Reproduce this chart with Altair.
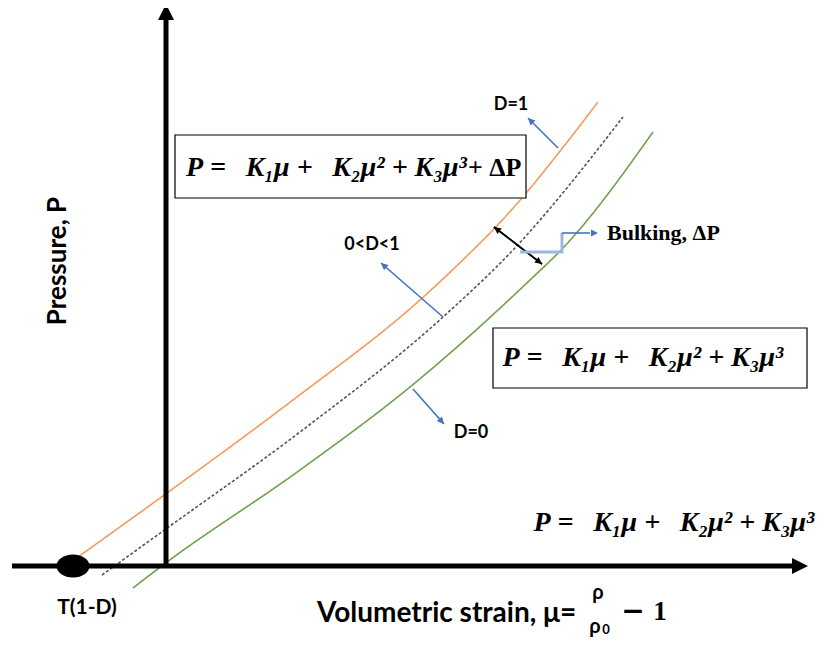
import math
import altair as alt
import pandas as pd

# ---------------- data (schematic units: mu right of the P axis, P above the mu axis)
orange_mu = [-88, 1, 127, 254, 307, 327, 361, 391, 432]
orange_P = [9, 73, 166, 266, 316, 336, 374, 411, 464]
dashed_mu = [-64, -3, 134, 277, 347, 457]
dashed_P = [-9, 35, 134, 249, 316, 449]
green_mu = [-33, -3, 134, 244, 364, 397, 487]
green_P = [-22, 1, 96, 179, 286, 318, 434]

series_names = ["D=1", "0<D<1", "D=0"]

ORANGE = "#F59A5E"
GREEN = "#6FA04F"
DASH = "#555555"
BLUE = "#4472C4"
LIGHTBLUE = "#9DB7E2"

X_DOMAIN = [-158, 656]
Y_DOMAIN = [-74, 558]
W, H = 814, 632

xs = alt.Scale(domain=X_DOMAIN, nice=False, zero=False)
ys = alt.Scale(domain=Y_DOMAIN, nice=False, zero=False)


def X(f="x"):
    return alt.X(f"{f}:Q", scale=xs, axis=None)


def Y(f="y"):
    return alt.Y(f"{f}:Q", scale=ys, axis=None)


# ---------------- curves
rows = []
for name, mus, ps in [("D=1", orange_mu, orange_P), ("0<D<1", dashed_mu, dashed_P), ("D=0", green_mu, green_P)]:
    for i, (m, p) in enumerate(zip(mus, ps)):
        rows.append({"series": name, "x": m, "y": p, "i": i})
curves_df = pd.DataFrame(rows)

curves = alt.Chart(curves_df).mark_line(interpolate="monotone", strokeWidth=1.6).encode(
    x=X(), y=Y(),
    color=alt.Color("series:N", scale=alt.Scale(domain=series_names, range=[ORANGE, DASH, GREEN]), legend=None),
    strokeDash=alt.StrokeDash("series:N", scale=alt.Scale(domain=series_names, range=[[1, 0], [3, 2], [1, 0]]), legend=None),
    detail="series:N",
    order=alt.Order("i:Q"),
)

# ---------------- axes
axis_df = pd.DataFrame({"x": [-154, 0], "y": [0, 0], "x2": [627, 0], "y2": [0, 546]})
axes = alt.Chart(axis_df).mark_rule(strokeWidth=5, color="black", strokeCap="butt").encode(
    x=X(), y=Y(), x2="x2:Q", y2="y2:Q"
)

# ---------------- annotation arrows (start -> tip)
arrow_start_x = [392, 277, 247, 376, 328]
arrow_start_y = [418, 249, 177, 302, 339]
arrow_tip_x = [362, 215, 278, 328, 376]
arrow_tip_y = [448, 303, 142, 339, 302]
arrow_color = [BLUE, BLUE, BLUE, "black", "black"]

ann_df = pd.DataFrame({"x": arrow_start_x, "y": arrow_start_y, "x2": arrow_tip_x, "y2": arrow_tip_y, "c": arrow_color})
ann_lines = alt.Chart(ann_df).mark_rule(strokeWidth=1.6).encode(
    x=X(), y=Y(), x2="x2:Q", y2="y2:Q", color=alt.Color("c:N", scale=None)
)

# bulking connector
bulk_x = [354, 396, 396]
bulk_y = [314, 314, 333]
bulk_df = pd.DataFrame({"x": bulk_x, "y": bulk_y, "i": range(len(bulk_x))})
bulk_light = alt.Chart(bulk_df).mark_line(strokeWidth=3, color=LIGHTBLUE).encode(x=X(), y=Y(), order="i:Q")
bulk_top_df = pd.DataFrame({"x": [396, 424], "y": [333, 333], "i": [0, 1]})
bulk_top = alt.Chart(bulk_top_df).mark_line(strokeWidth=1.6, color=BLUE).encode(x=X(), y=Y(), order="i:Q")

# arrowheads
heads = []


def head(tx, ty, fx, fy, size, col):
    ang = math.degrees(math.atan2(tx - fx, ty - fy)) % 360
    heads.append({"x": tx, "y": ty, "ang": ang, "size": size, "c": col})


head(642, 0, 627, 0, 1024, "black")
head(0, 562, 0, 546, 1024, "black")
for sx, sy, tx, ty, c in zip(arrow_start_x, arrow_start_y, arrow_tip_x, arrow_tip_y, arrow_color):
    head(tx, ty, sx, sy, 196, c)
head(432, 333, 396, 333, 196, BLUE)
heads_df = pd.DataFrame(heads)
ARROW_PATH = "M0,0L-0.5,1L0.5,1Z"
heads_layer = alt.Chart(heads_df).mark_point(shape=ARROW_PATH, filled=True, opacity=1, strokeWidth=0).encode(
    x=X(), y=Y(),
    angle=alt.Angle("ang:Q", scale=None),
    size=alt.Size("size:Q", scale=None),
    color=alt.Color("c:N", scale=None),
)

# tension point
dot_df = pd.DataFrame({"x": [-93], "y": [0]})
ELLIPSE = "M-1,0A1,0.7,0,1,1,1,0A1,0.7,0,1,1,-1,0Z"
dot = alt.Chart(dot_df).mark_point(shape=ELLIPSE, filled=True, color="black", opacity=1, size=1089).encode(x=X(), y=Y())

# boxes
box_df = pd.DataFrame({"x": [9, 327], "x2": [360, 641], "y": [431, 238], "y2": [368, 178]})
boxes = alt.Chart(box_df).mark_rect(fill="white", stroke="black", strokeWidth=1.2).encode(
    x=X(), x2="x2:Q", y=Y(), y2="y2:Q"
)

# ---------------- texts
NB = "\u00a0"
WIDE = "\u2002\u2009"
EQ = f"P{NB}={WIDE}K\u2081\u03bc{NB}+{WIDE}K\u2082\u03bc\u00b2{NB}+{NB}K\u2083\u03bc\u00b3"


def txt(label, x, y, **kw):
    df = pd.DataFrame({"x": [x], "y": [y], "t": [label]})
    return alt.Chart(df).mark_text(**kw).encode(x=X(), y=Y(), text="t:N")


SERIF = dict(font="Liberation Serif", fontWeight="bold", fontStyle="italic", fontSize=28, baseline="middle")
SANS = dict(font="Lato", fontWeight="bold", baseline="middle", color="black")
UPRIGHT = dict(font="Liberation Serif", fontWeight="bold", baseline="middle", color="black")

texts = [
    txt(EQ, 301, 398, align="right", **SERIF),
    txt(f"+{NB}\u0394P", 302, 398, align="left", fontSize=26, **UPRIGHT),
    txt(EQ, 477, 208, align="center", **SERIF),
    txt(EQ, 508, 43, align="center", **SERIF),
    txt("D=1", 345, 461, align="center", fontSize=18, **SANS),
    txt("0<D<1", 206, 321, align="center", fontSize=18, **SANS),
    txt("D=0", 305, 133, align="center", fontSize=18, **SANS),
    txt("Bulking, \u0394P", 441, 333, align="left", fontSize=22, **UPRIGHT),
    txt("T(1-D)", -79, -42, align="center", fontSize=21, **SANS),
    txt("Pressure, P", -108, 305, align="center", angle=270, fontSize=26, **SANS),
    txt("Volumetric strain, \u03bc=", 151, -48, align="left", fontSize=28, **SANS),
    txt("\u03c1", 432, -27, align="center", fontSize=20, **SANS),
    txt("\u03c1", 429, -61, align="center", fontSize=20, **SANS),
    txt("0", 440, -64, align="center", fontSize=13, **SANS),
    txt("\u2212", 467, -46, align="center", font="DejaVu Serif", fontWeight="bold", fontSize=28, baseline="middle"),
    txt("1", 494, -46, align="center", fontSize=27, **UPRIGHT),
]

chart = alt.layer(
    curves, axes, ann_lines, bulk_light, bulk_top, heads_layer, dot, boxes, *texts
).properties(
    width=W, height=H, autosize=alt.AutoSizeParams(type="none"), padding=0
).configure_view(stroke=None)

chart.save("out.html", embed_options={"renderer": "svg", "actions": False})
